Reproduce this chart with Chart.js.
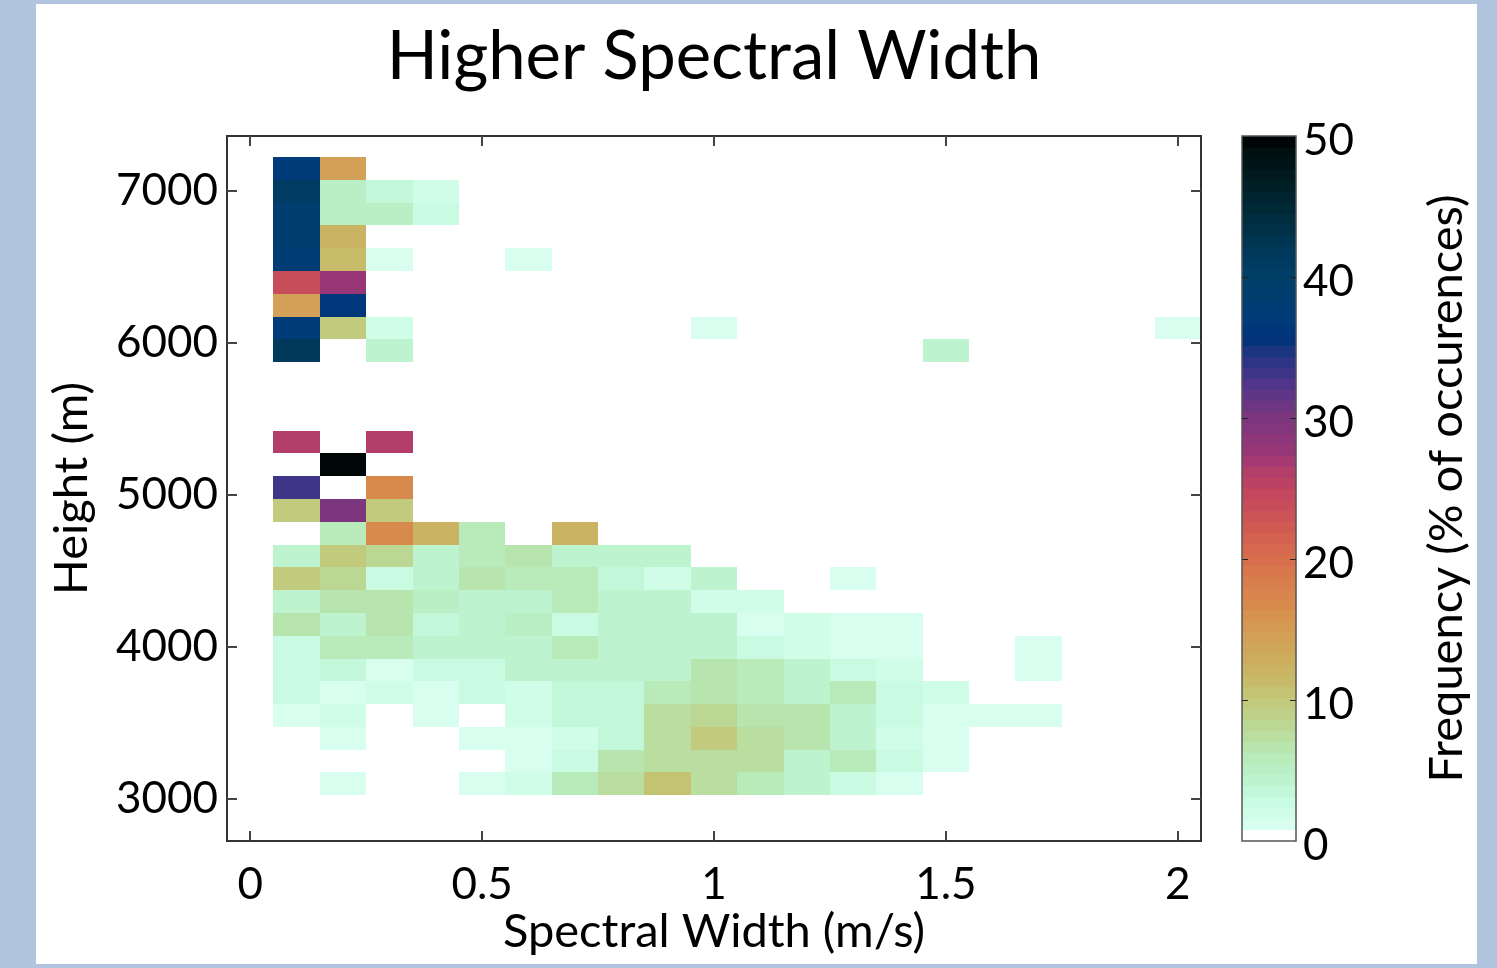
<!DOCTYPE html>
<html><head><meta charset="utf-8">
<script src="https://cdn.jsdelivr.net/npm/chart.js@4.4.1/dist/chart.umd.min.js"></script>
<style>html,body{margin:0;padding:0;background:#b0c4de;overflow:hidden}#wrap{position:absolute;left:0;top:0;width:1497px;height:968px}canvas{display:block}</style>
</head><body><div id="wrap"><canvas id="c"></canvas></div>
<script>
const titleText = 'Higher Spectral Width';
const xAxisTitle = 'Spectral Width (m/s)';
const yAxisTitle = 'Height (m)';
const cbTitle = 'Frequency (% of occurences)';

const xCenters = [0.1,0.2,0.3,0.4,0.5,0.6,0.7,0.8,0.9,1.0,1.1,1.2,1.3,1.4,1.5,1.6,1.7,1.8,1.9,2.0];
const yCenters = [7150,7000,6850,6700,6550,6400,6250,6100,5950,5800,5650,5500,5350,5200,5050,4900,4750,4600,4450,4300,4150,4000,3850,3700,3550,3400,3250,3100];
const xBinWidth = 0.1;
const yBinHeight = 150;

const xTickVals = [0,0.5,1,1.5,2];
const xTickLabels = ['0','0.5','1','1.5','2'];
const yTickVals = [3000,4000,5000,6000,7000];
const yTickLabels = ['3000','4000','5000','6000','7000'];
const cbTickVals = [0,10,20,30,40,50];
const cbTickLabels = ['0','10','20','30','40','50'];

// frequency (% of occurrences), rows follow yCenters, columns follow xCenters
const freq = [
 [37,14.5,0,0,0,0,0,0,0,0,0,0,0,0,0,0,0,0,0,0],
 [41,5,3.5,2,0,0,0,0,0,0,0,0,0,0,0,0,0,0,0,0],
 [39,5,5,3,0,0,0,0,0,0,0,0,0,0,0,0,0,0,0,0],
 [39,12,0,0,0,0,0,0,0,0,0,0,0,0,0,0,0,0,0,0],
 [38,11.5,1,0,0,1,0,0,0,0,0,0,0,0,0,0,0,0,0,0],
 [23.5,27.5,0,0,0,0,0,0,0,0,0,0,0,0,0,0,0,0,0,0],
 [14.5,36.5,0,0,0,0,0,0,0,0,0,0,0,0,0,0,0,0,0,0],
 [37,10,2,0,0,0,0,0,0,1,0,0,0,0,0,0,0,0,0,1],
 [42,0,4.5,0,0,0,0,0,0,0,0,0,0,0,4.5,0,0,0,0,0],
 [0,0,0,0,0,0,0,0,0,0,0,0,0,0,0,0,0,0,0,0],
 [0,0,0,0,0,0,0,0,0,0,0,0,0,0,0,0,0,0,0,0],
 [0,0,0,0,0,0,0,0,0,0,0,0,0,0,0,0,0,0,0,0],
 [26,0,26,0,0,0,0,0,0,0,0,0,0,0,0,0,0,0,0,0],
 [0,50,0,0,0,0,0,0,0,0,0,0,0,0,0,0,0,0,0,0],
 [33.5,0,17,0,0,0,0,0,0,0,0,0,0,0,0,0,0,0,0,0],
 [10,30.3,10,0,0,0,0,0,0,0,0,0,0,0,0,0,0,0,0,0],
 [0,6,17,12,6,0,12,0,0,0,0,0,0,0,0,0,0,0,0,0],
 [4.5,10,8.5,4.5,6,6.5,4.5,4.5,4.5,0,0,0,0,0,0,0,0,0,0,0],
 [10,8.5,3,4.5,6.5,5.5,5.5,3.5,2,4.5,0,0,1,0,0,0,0,0,0,0],
 [4.5,6.5,6.5,5,4.5,4.5,5.5,4.5,4,2,2,0,0,0,0,0,0,0,0,0],
 [7,4.5,7,3.5,4,5,3,4.5,4.5,4,1,2,1,1,0,0,0,0,0,0],
 [3,6,5.5,4,4.5,4.5,5.5,4.5,4.5,4,3,2,1,1,0,0,1,0,0,0],
 [3,3.5,1,3,3,4,4.5,4.5,4,6.5,6,4,3,2,0,0,1,0,0,0],
 [2.5,1,2,1,3,2,3.5,3.5,5.5,6.5,6,4.5,5.5,3,2,0,0,0,0,0],
 [1,2,0,1,0,2,3.5,3.5,7.5,8,6.5,6.5,4.5,3,1,1,1,0,0,0],
 [0,1,0,0,1,1,2,3.5,7.5,10,7.5,6.5,4,2,1,0,0,0,0,0],
 [0,0,0,0,0,1,3,7,7.5,7.5,7.5,4.5,5.5,3,1,0,0,0,0,0],
 [0,1,0,0,1,2,5.5,7.5,10.5,7.5,6,4,3,1,0,0,0,0,0,0]
];

const cbMin = 0, cbMax = 50, cbLevels = 64;
const cmapStops = [
 [0.8,'#dafff1'],[2,'#cffde8'],[3.4,'#c3f8dc'],[4.5,'#bcf2cc'],[5.7,'#b8ebbd'],[7,'#b8e2a8'],
 [8.1,'#bcd894'],[10,'#c2c87a'],[11.6,'#c8b866'],[14,'#d0a458'],[16.4,'#d88e4c'],[20,'#d86e4c'],
 [22.3,'#d05a52'],[24.7,'#c4465f'],[26.3,'#b23d6a'],[27.5,'#9a3676'],[30,'#7c367e'],[32.2,'#55358a'],
 [33.6,'#353588'],[34.8,'#1a3580'],[35.7,'#00337a'],[37,'#003c7a'],[40,'#004068'],[41.7,'#003a5c'],
 [44,'#002e42'],[46.4,'#002028'],[48.8,'#001010'],[50,'#000000']
];

function hexRgb(h){return [parseInt(h.slice(1,3),16),parseInt(h.slice(3,5),16),parseInt(h.slice(5,7),16)];}
function interpColor(t){
  if (t <= cmapStops[0][0]) return cmapStops[0][1];
  for (let i=1;i<cmapStops.length;i++){
    if (t <= cmapStops[i][0]){
      const [a,ca]=cmapStops[i-1],[b,cb]=cmapStops[i];
      const f=(t-a)/(b-a), A=hexRgb(ca), B=hexRgb(cb);
      return 'rgb('+A.map((v,k)=>Math.round(v+(B[k]-v)*f)).join(',')+')';
    }
  }
  return cmapStops[cmapStops.length-1][1];
}
function levelColor(idx){
  if (idx <= 0) return '#ffffff';
  return interpColor((idx+0.5)/cbLevels*(cbMax-cbMin)+cbMin);
}
function cmap(v){
  const idx = Math.min(cbLevels-1, Math.floor((v-cbMin)/(cbMax-cbMin)*cbLevels));
  return levelColor(idx);
}

const FONT = 'Lato';
const points = [];
yCenters.forEach((yc,r)=>xCenters.forEach((xc,c)=>{ if (freq[r][c] > 0) points.push({x:xc,y:yc,v:freq[r][c]}); }));

const heatPlugin = {
  id:'heat',
  beforeDraw(chart){
    const ctx = chart.ctx;
    ctx.save();
    ctx.fillStyle = '#b0c4de'; ctx.fillRect(0,0,chart.width,chart.height);
    ctx.fillStyle = '#ffffff'; ctx.fillRect(36,4,1441,960);
    ctx.restore();
  },
  beforeDatasetsDraw(chart){
    const {ctx, chartArea:a, scales:{x,y}} = chart;
    ctx.save();
    ctx.beginPath(); ctx.rect(a.left,a.top,a.right-a.left,a.bottom-a.top); ctx.clip();
    chart.data.datasets[0].data.forEach(p=>{
      const l = Math.round(x.getPixelForValue(p.x - xBinWidth/2));
      const r = Math.round(x.getPixelForValue(p.x + xBinWidth/2));
      const t = Math.round(y.getPixelForValue(p.y + yBinHeight/2));
      const b = Math.round(y.getPixelForValue(p.y - yBinHeight/2));
      ctx.fillStyle = cmap(p.v);
      ctx.fillRect(l, t, r-l, b-t);
    });
    ctx.restore();
  },
  afterDraw(chart){
    const {ctx, chartArea:a, scales:{x,y}} = chart;
    ctx.save();
    // frame
    ctx.strokeStyle = '#333'; ctx.lineWidth = 2;
    ctx.strokeRect(a.left, a.top, a.right-a.left, a.bottom-a.top);
    ctx.lineWidth = 2; ctx.strokeStyle = '#444';
    const tl = 10;
    ctx.beginPath();
    xTickVals.forEach(v=>{ const px = Math.round(x.getPixelForValue(v));
      ctx.moveTo(px, a.bottom); ctx.lineTo(px, a.bottom - tl);
      ctx.moveTo(px, a.top); ctx.lineTo(px, a.top + tl); });
    yTickVals.forEach(v=>{ const py = Math.round(y.getPixelForValue(v));
      ctx.moveTo(a.left, py); ctx.lineTo(a.left + tl, py);
      ctx.moveTo(a.right, py); ctx.lineTo(a.right - tl, py); });
    ctx.stroke();

    // colorbar
    const cx0 = a.right + 41, cx1 = a.right + 95;
    const cy = v => a.bottom - (v-cbMin)/(cbMax-cbMin)*(a.bottom-a.top);
    for (let i=0;i<cbLevels;i++){
      const y0 = cy(cbMin + i*(cbMax-cbMin)/cbLevels), y1 = cy(cbMin + (i+1)*(cbMax-cbMin)/cbLevels);
      ctx.fillStyle = levelColor(i);
      ctx.fillRect(cx0, Math.floor(y1), cx1-cx0, Math.ceil(y0)-Math.floor(y1));
    }
    ctx.strokeStyle = '#555'; ctx.lineWidth = 1.5;
    ctx.strokeRect(cx0, a.top, cx1-cx0, a.bottom-a.top);
    ctx.beginPath(); ctx.strokeStyle = '#222'; ctx.lineWidth = 1;
    cbTickVals.forEach(v=>{ if (v===cbMin || v===cbMax) return; const py = Math.round(cy(v))+0.5;
      ctx.moveTo(cx0, py); ctx.lineTo(cx0+6, py); ctx.moveTo(cx1, py); ctx.lineTo(cx1-6, py); });
    ctx.stroke();
    ctx.fillStyle = '#000'; ctx.font = '44px ' + FONT; ctx.textAlign = 'left'; ctx.textBaseline = 'middle';
    cbTickVals.forEach((v,i)=>{ ctx.fillText(cbTickLabels[i], cx1 + 7, cy(v) + 5); });
    // colorbar title
    ctx.font = '47px ' + FONT;
    ctx.translate(1447, (a.top + a.bottom)/2);
    ctx.rotate(-Math.PI/2);
    ctx.textAlign = 'center'; ctx.textBaseline = 'middle';
    ctx.fillText(cbTitle, 0, 0);
    ctx.restore();
  }
};

new Chart(document.getElementById('c'), {
  type:'scatter',
  data:{ datasets:[{ data: points, pointRadius:0, pointHoverRadius:0, showLine:false }] },
  plugins:[heatPlugin],
  options:{
    responsive:true, maintainAspectRatio:false, animation:false,
    layout:{ padding:{ left:36, right:296, top:4, bottom:4 } },
    plugins:{
      legend:{display:false}, tooltip:{enabled:false},
      title:{ display:true, text:titleText, fullSize:false, color:'#000',
        font:{family:FONT, size:67, weight:'normal', lineHeight:1.2}, padding:{top:13, bottom:38.6} }
    },
    scales:{
      x:{ type:'linear', min:-0.05, max:2.05,
        afterBuildTicks(s){ s.ticks = xTickVals.map(v=>({value:v})); },
        afterFit(s){ s.height = 123; },
        ticks:{ autoSkip:false, maxRotation:0, padding:17, color:'#000', font:{family:FONT,size:44},
          callback:(v)=>xTickLabels[xTickVals.indexOf(v)] },
        grid:{ display:false, drawTicks:false }, border:{ display:false },
        title:{ display:true, text:xAxisTitle, color:'#000', font:{family:FONT,size:47}, padding:{top:0,bottom:4} } },
      y:{ type:'linear', min:2724, max:7364,
        afterBuildTicks(s){ s.ticks = yTickVals.map(v=>({value:v})); },
        afterFit(s){ s.width = 191; },
        ticks:{ autoSkip:false, padding:9, color:'#000', font:{family:FONT,size:44},
          callback:(v)=>yTickLabels[yTickVals.indexOf(v)] },
        grid:{ display:false, drawTicks:false }, border:{ display:false },
        title:{ display:true, text:yAxisTitle, color:'#000', font:{family:FONT,size:47}, padding:{top:8,bottom:0} } }
    }
  }
});
</script></body></html>
